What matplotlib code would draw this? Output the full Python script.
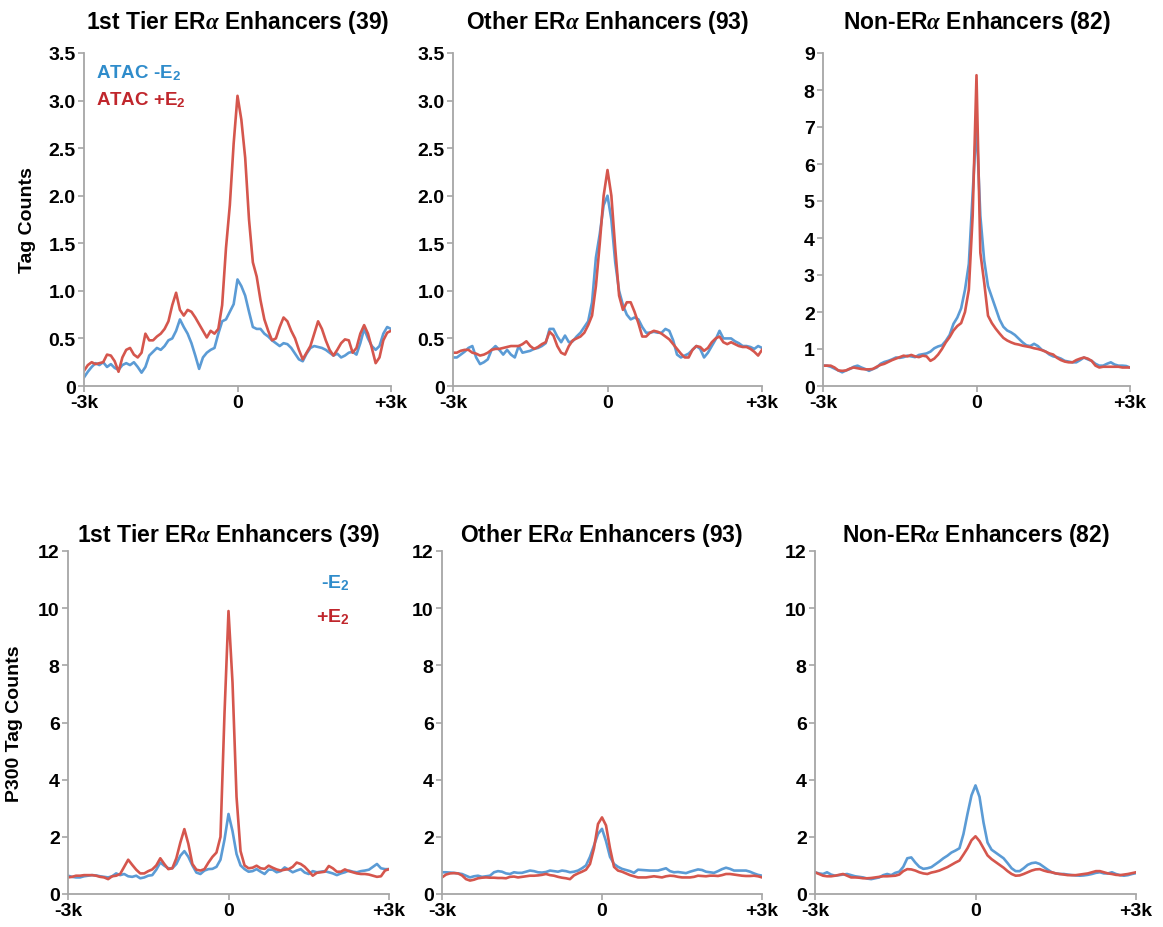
import numpy as np
import matplotlib
matplotlib.use("Agg")
import matplotlib.pyplot as plt

plt.rcParams["font.family"] = ["Liberation Sans Narrow", "Liberation Sans", "DejaVu Sans"]
plt.rcParams["font.weight"] = "bold"
plt.rcParams["mathtext.fontset"] = "custom"
plt.rcParams["mathtext.rm"] = "Liberation Sans:bold"
plt.rcParams["mathtext.it"] = "Liberation Serif:italic"

# bins every 75 bp from -3k to +3k (81 bins)
BIN_STEP = 75
positions = np.arange(-3000, 3001, BIN_STEP)

titles = [
    r"1st Tier ER$\alpha$ Enhancers (39)",
    r"Other ER$\alpha$ Enhancers (93)",
    r"Non-ER$\alpha$ Enhancers (82)",
]

# ATAC, 1st tier
atac_tier1_minus = [
    0.09, 0.15, 0.20, 0.24, 0.22, 0.25, 0.20, 0.23, 0.19, 0.17,
    0.22, 0.24, 0.22, 0.25, 0.20, 0.14, 0.20, 0.32, 0.36, 0.40,
    0.38, 0.42, 0.48, 0.50, 0.58, 0.70, 0.62, 0.55, 0.45, 0.32,
    0.18, 0.30, 0.35, 0.38, 0.40, 0.55, 0.68, 0.70, 0.78, 0.86,
    1.12, 1.05, 0.95, 0.78, 0.62, 0.60, 0.60, 0.55, 0.52, 0.48,
    0.45, 0.42, 0.45, 0.44, 0.40, 0.34, 0.28, 0.26, 0.34, 0.40,
    0.42, 0.41, 0.40, 0.38, 0.35, 0.32, 0.34, 0.30, 0.32, 0.35,
    0.36, 0.33, 0.45, 0.60, 0.50, 0.42, 0.38, 0.42, 0.55, 0.62,
    0.60,
]
atac_tier1_plus = [
    0.16, 0.22, 0.25, 0.23, 0.24, 0.25, 0.33, 0.32, 0.26, 0.15,
    0.30, 0.38, 0.40, 0.33, 0.30, 0.35, 0.55, 0.48, 0.48, 0.52,
    0.55, 0.60, 0.68, 0.85, 0.98, 0.80, 0.74, 0.80, 0.78, 0.72,
    0.65, 0.58, 0.51, 0.58, 0.55, 0.60, 0.85, 1.45, 1.90, 2.55,
    3.05, 2.80, 2.40, 1.75, 1.30, 1.15, 0.90, 0.70, 0.58, 0.48,
    0.50, 0.62, 0.72, 0.68, 0.58, 0.50, 0.38, 0.28, 0.35, 0.42,
    0.55, 0.68, 0.60, 0.48, 0.38, 0.32, 0.38, 0.45, 0.49, 0.48,
    0.35, 0.40, 0.55, 0.64, 0.55, 0.40, 0.24, 0.30, 0.48, 0.56,
    0.58,
]

# ATAC, other ERa
atac_other_minus = [
    0.30, 0.30, 0.33, 0.36, 0.40, 0.42, 0.30, 0.23, 0.25, 0.28,
    0.38, 0.42, 0.38, 0.33, 0.38, 0.33, 0.30, 0.42, 0.35, 0.36,
    0.37, 0.39, 0.40, 0.42, 0.45, 0.60, 0.60, 0.52, 0.46, 0.53,
    0.46, 0.47, 0.52, 0.56, 0.62, 0.68, 0.88, 1.35, 1.60, 1.90,
    2.00, 1.75, 1.30, 1.00, 0.85, 0.75, 0.70, 0.72, 0.70, 0.62,
    0.56, 0.56, 0.57, 0.56, 0.56, 0.60, 0.58, 0.48, 0.33, 0.30,
    0.32, 0.34, 0.38, 0.42, 0.39, 0.30, 0.35, 0.42, 0.49, 0.58,
    0.50, 0.50, 0.50, 0.47, 0.45, 0.42, 0.42, 0.41, 0.39, 0.42,
    0.40,
]
atac_other_plus = [
    0.35, 0.35, 0.37, 0.38, 0.38, 0.35, 0.34, 0.32, 0.33, 0.35,
    0.38, 0.39, 0.39, 0.40, 0.41, 0.42, 0.42, 0.42, 0.44, 0.47,
    0.42, 0.39, 0.41, 0.44, 0.46, 0.57, 0.53, 0.42, 0.35, 0.33,
    0.42, 0.48, 0.50, 0.52, 0.56, 0.64, 0.74, 1.05, 1.50, 2.00,
    2.27, 2.00, 1.45, 0.95, 0.80, 0.88, 0.88, 0.78, 0.66, 0.52,
    0.52, 0.56, 0.58, 0.57, 0.55, 0.52, 0.49, 0.44, 0.39, 0.34,
    0.30, 0.30, 0.38, 0.42, 0.41, 0.37, 0.40, 0.46, 0.50, 0.52,
    0.46, 0.44, 0.46, 0.44, 0.42, 0.41, 0.41, 0.39, 0.36, 0.32,
    0.38,
]

# ATAC, non-ERa
atac_non_minus = [
    0.55, 0.55, 0.52, 0.47, 0.42, 0.37, 0.42, 0.46, 0.52, 0.55,
    0.50, 0.46, 0.41, 0.46, 0.50, 0.60, 0.65, 0.68, 0.72, 0.77,
    0.76, 0.78, 0.82, 0.80, 0.78, 0.84, 0.86, 0.88, 0.93, 1.02,
    1.07, 1.10, 1.22, 1.38, 1.68, 1.85, 2.10, 2.60, 3.30, 5.20,
    7.10, 4.60, 3.40, 2.70, 2.40, 2.10, 1.80, 1.60, 1.50, 1.45,
    1.38, 1.28, 1.18, 1.10, 1.08, 1.14, 1.08, 0.98, 0.93, 0.85,
    0.80, 0.78, 0.74, 0.68, 0.66, 0.64, 0.64, 0.70, 0.77, 0.72,
    0.68, 0.60, 0.55, 0.55, 0.60, 0.64, 0.58, 0.55, 0.55, 0.54,
    0.50,
]
atac_non_plus = [
    0.55, 0.55, 0.55, 0.50, 0.42, 0.41, 0.42, 0.47, 0.50, 0.48,
    0.46, 0.45, 0.45, 0.46, 0.52, 0.57, 0.60, 0.65, 0.70, 0.74,
    0.78, 0.82, 0.80, 0.84, 0.80, 0.78, 0.82, 0.80, 0.68, 0.74,
    0.85, 1.00, 1.18, 1.32, 1.50, 1.62, 1.70, 2.00, 2.60, 4.60,
    8.40, 3.60, 2.80, 1.90, 1.70, 1.55, 1.42, 1.30, 1.23, 1.18,
    1.14, 1.12, 1.09, 1.07, 1.05, 1.02, 1.00, 0.97, 0.93, 0.88,
    0.85, 0.76, 0.70, 0.66, 0.64, 0.64, 0.70, 0.74, 0.77, 0.74,
    0.68, 0.55, 0.50, 0.52, 0.52, 0.52, 0.52, 0.52, 0.50, 0.50,
    0.50,
]

# P300, 1st tier
p300_tier1_minus = [
    0.64, 0.60, 0.58, 0.58, 0.62, 0.64, 0.66, 0.65, 0.62, 0.60,
    0.58, 0.62, 0.72, 0.66, 0.70, 0.62, 0.60, 0.64, 0.55, 0.58,
    0.64, 0.66, 0.85, 1.10, 0.99, 0.90, 0.90, 1.05, 1.34, 1.50,
    1.30, 1.00, 0.75, 0.70, 0.82, 0.87, 0.88, 0.95, 1.20, 1.90,
    2.80, 2.20, 1.40, 1.00, 0.87, 0.78, 0.80, 0.87, 0.78, 0.70,
    0.85, 0.85, 0.76, 0.80, 0.93, 0.85, 0.76, 0.82, 0.87, 0.75,
    0.70, 0.80, 0.76, 0.78, 0.80, 0.76, 0.72, 0.66, 0.72, 0.76,
    0.82, 0.78, 0.76, 0.80, 0.82, 0.85, 0.95, 1.05, 0.90, 0.87,
    0.87,
]
p300_tier1_plus = [
    0.58, 0.60, 0.64, 0.64, 0.66, 0.66, 0.66, 0.64, 0.60, 0.58,
    0.52, 0.62, 0.64, 0.70, 0.95, 1.20, 1.02, 0.85, 0.72, 0.72,
    0.80, 0.86, 1.00, 1.25, 1.05, 0.87, 0.90, 1.25, 1.80, 2.27,
    1.75, 1.05, 0.85, 0.82, 0.87, 1.10, 1.30, 1.45, 2.00, 6.30,
    9.90, 7.40, 3.40, 1.50, 1.00, 0.90, 0.92, 0.99, 0.90, 0.88,
    0.99, 0.92, 0.86, 0.82, 0.85, 0.87, 0.95, 1.10, 1.05, 0.95,
    0.80, 0.64, 0.74, 0.76, 0.78, 0.98, 0.90, 0.78, 0.78, 0.86,
    0.80, 0.76, 0.72, 0.70, 0.70, 0.68, 0.64, 0.60, 0.62, 0.82,
    0.87,
]

# P300, other ERa
p300_other_minus = [
    0.76, 0.76, 0.75, 0.74, 0.72, 0.70, 0.64, 0.58, 0.62, 0.64,
    0.60, 0.62, 0.64, 0.76, 0.80, 0.78, 0.72, 0.70, 0.76, 0.74,
    0.74, 0.78, 0.82, 0.80, 0.76, 0.75, 0.77, 0.82, 0.80, 0.78,
    0.82, 0.80, 0.76, 0.78, 0.82, 0.90, 1.00, 1.30, 1.70, 2.10,
    2.28, 1.85, 1.30, 1.05, 0.95, 0.88, 0.84, 0.80, 0.74, 0.85,
    0.84, 0.83, 0.82, 0.82, 0.82, 0.86, 0.90, 0.80, 0.76, 0.77,
    0.75, 0.73, 0.78, 0.82, 0.86, 0.84, 0.78, 0.76, 0.74, 0.80,
    0.87, 0.92, 0.88, 0.82, 0.82, 0.82, 0.82, 0.78, 0.72, 0.67,
    0.64,
]
p300_other_plus = [
    0.58, 0.68, 0.72, 0.73, 0.72, 0.65, 0.52, 0.47, 0.50, 0.55,
    0.57, 0.58, 0.57, 0.57, 0.56, 0.56, 0.55, 0.60, 0.61, 0.58,
    0.60, 0.62, 0.64, 0.64, 0.65, 0.67, 0.70, 0.66, 0.64, 0.60,
    0.57, 0.55, 0.52, 0.65, 0.72, 0.78, 0.85, 1.05, 1.60, 2.45,
    2.68, 2.40, 1.60, 0.95, 0.82, 0.78, 0.72, 0.66, 0.62, 0.58,
    0.58, 0.58, 0.60, 0.62, 0.60, 0.58, 0.62, 0.64, 0.63, 0.60,
    0.58, 0.58, 0.58, 0.60, 0.64, 0.63, 0.62, 0.64, 0.64, 0.63,
    0.66, 0.70, 0.70, 0.68, 0.66, 0.64, 0.63, 0.63, 0.64, 0.62,
    0.58,
]

# P300, non-ERa
p300_non_minus = [
    0.76, 0.72, 0.70, 0.76, 0.68, 0.64, 0.66, 0.68, 0.70, 0.66,
    0.62, 0.60, 0.58, 0.54, 0.52, 0.55, 0.58, 0.66, 0.70, 0.66,
    0.74, 0.78, 0.95, 1.25, 1.28, 1.10, 0.95, 0.88, 0.90, 0.94,
    1.04, 1.14, 1.25, 1.34, 1.45, 1.52, 1.60, 2.10, 2.80, 3.45,
    3.80, 3.40, 2.50, 1.80, 1.55, 1.45, 1.35, 1.25, 1.08, 0.90,
    0.80, 0.80, 0.90, 1.02, 1.08, 1.10, 1.05, 0.95, 0.85, 0.76,
    0.72, 0.70, 0.70, 0.68, 0.66, 0.65, 0.64, 0.65, 0.67, 0.70,
    0.74, 0.76, 0.72, 0.72, 0.76, 0.70, 0.66, 0.64, 0.66, 0.70,
    0.73,
]
p300_non_plus = [
    0.76, 0.70, 0.64, 0.62, 0.62, 0.64, 0.67, 0.70, 0.64, 0.58,
    0.58, 0.57, 0.55, 0.55, 0.56, 0.58, 0.60, 0.62, 0.62, 0.63,
    0.64, 0.68, 0.80, 0.87, 0.86, 0.82, 0.76, 0.72, 0.70, 0.75,
    0.78, 0.82, 0.88, 0.94, 1.02, 1.10, 1.17, 1.38, 1.60, 1.88,
    2.02, 1.85, 1.60, 1.35, 1.22, 1.12, 1.02, 0.92, 0.80, 0.70,
    0.64, 0.65, 0.70, 0.76, 0.82, 0.86, 0.87, 0.82, 0.78, 0.76,
    0.72, 0.70, 0.68, 0.66, 0.66, 0.66, 0.68, 0.70, 0.72, 0.76,
    0.80, 0.80, 0.76, 0.72, 0.70, 0.67, 0.66, 0.68, 0.70, 0.73,
    0.76,
]

top_curves = [
    (atac_tier1_minus, atac_tier1_plus),
    (atac_other_minus, atac_other_plus),
    (atac_non_minus, atac_non_plus),
]
bottom_curves = [
    (p300_tier1_minus, p300_tier1_plus),
    (p300_other_minus, p300_other_plus),
    (p300_non_minus, p300_non_plus),
]

top_yticks = [
    ([0, 0.5, 1.0, 1.5, 2.0, 2.5, 3.0, 3.5], ["0", "0.5", "1.0", "1.5", "2.0", "2.5", "3.0", "3.5"]),
    ([0, 0.5, 1.0, 1.5, 2.0, 2.5, 3.0, 3.5], ["0", "0.5", "1.0", "1.5", "2.0", "2.5", "3.0", "3.5"]),
    (list(range(0, 10)), [str(v) for v in range(0, 10)]),
]
bottom_yticks = ([0, 2, 4, 6, 8, 10, 12], ["0", "2", "4", "6", "8", "10", "12"])
xtick_pos = [-3000, 0, 3000]
xtick_labels = ["-3k", "0", "+3k"]

BLUE = "#5b9bd5"
RED = "#d5564d"
BLUE_TXT = "#2f8ccb"
RED_TXT = "#c0262c"
AXIS_GRAY = "#a6a6a6"

# axes rectangles in figure pixels (left, top, right, bottom) -> 1163 x 928
W, H = 1163, 928
top_boxes = [(84, 54, 391, 387), (453, 54, 762, 387), (823, 54, 1130, 387)]
bottom_boxes = [(68, 552, 389, 895), (442, 552, 762, 895), (815, 552, 1136, 895)]


def make_axes(fig, box):
    l, t, r, b = box
    return fig.add_axes([l / W, 1 - b / H, (r - l) / W, (b - t) / H])


def style_axes(ax, ymax, yticks, ylabels):
    for side in ("top", "right"):
        ax.spines[side].set_visible(False)
    for side in ("left", "bottom"):
        ax.spines[side].set_color(AXIS_GRAY)
        ax.spines[side].set_linewidth(1.3)
    ax.set_xlim(-3000, 3000)
    ax.set_ylim(0, ymax)
    ax.set_xticks(xtick_pos)
    ax.set_xticklabels(xtick_labels)
    ax.set_yticks(yticks)
    ax.set_yticklabels(ylabels)
    ax.tick_params(axis="both", colors=AXIS_GRAY, labelcolor="black", length=4, width=1.2,
                   labelsize=14, pad=2)
    for lab in ax.get_xticklabels() + ax.get_yticklabels():
        lab.set_fontweight("bold")


fig = plt.figure(figsize=(W / 100, H / 100), dpi=100)

for k in range(3):
    ax = make_axes(fig, top_boxes[k])
    minus, plus = top_curves[k]
    ax.plot(positions, minus, color=BLUE, lw=1.9)
    ax.plot(positions, plus, color=RED, lw=1.9)
    ticks, labels = top_yticks[k]
    style_axes(ax, ticks[-1], ticks, labels)
    ax.set_title(titles[k], fontsize=16.5, fontweight="bold", pad=18)
    if k == 0:
        ax.set_ylabel("Tag Counts", fontsize=14, fontweight="bold", labelpad=9)
        ax.text(0.04, 0.943, "ATAC -E$_2$", transform=ax.transAxes, color=BLUE_TXT,
                fontsize=13.5, fontweight="bold", ha="left", va="center")
        ax.text(0.04, 0.862, "ATAC +E$_2$", transform=ax.transAxes, color=RED_TXT,
                fontsize=13.5, fontweight="bold", ha="left", va="center")

for k in range(3):
    ax = make_axes(fig, bottom_boxes[k])
    minus, plus = bottom_curves[k]
    ax.plot(positions, minus, color=BLUE, lw=1.9)
    ax.plot(positions, plus, color=RED, lw=1.9)
    ticks, labels = bottom_yticks
    style_axes(ax, 12, ticks, labels)
    ax.set_title(titles[k], fontsize=16.5, fontweight="bold", pad=7)
    if k == 0:
        ax.set_ylabel("P300 Tag Counts", fontsize=14, fontweight="bold", labelpad=11)
        ax.text(0.878, 0.91, "-E$_2$", transform=ax.transAxes, color=BLUE_TXT,
                fontsize=14, fontweight="bold", ha="right", va="center")
        ax.text(0.878, 0.81, "+E$_2$", transform=ax.transAxes, color=RED_TXT,
                fontsize=14, fontweight="bold", ha="right", va="center")

fig.savefig("out.png", dpi=100, facecolor="white")
